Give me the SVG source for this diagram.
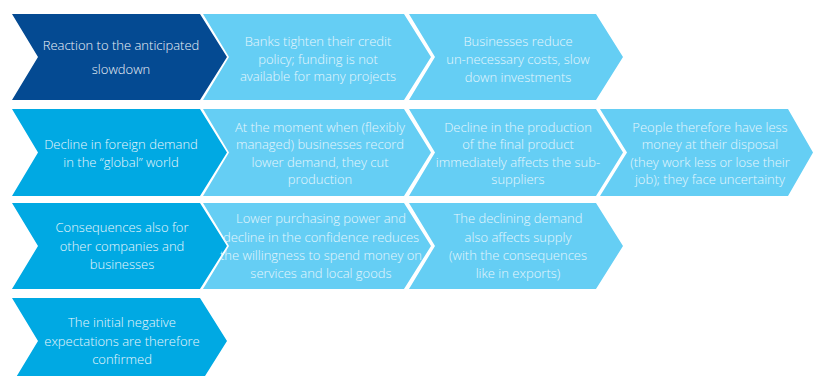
<svg xmlns="http://www.w3.org/2000/svg" width="816" height="378" viewBox="0 0 816 378">
  <style>
    .dark { fill: #044A92; }
    .mid { fill: #00A9E3; }
    .light { fill: #65CEF4; }
    text { font-family: "Open Sans", "Liberation Sans", sans-serif; font-size: 13px; font-weight: 300; text-anchor: middle; }
    .t-dark { fill: #EEF3F9; }
    .t-mid { fill: #E9F6FC; }
    .t-light { fill: #E6F6FD; }
  </style>
  <defs>
    <clipPath id="page">
      <rect x="0" y="0" width="816" height="376"/>
    </clipPath>
  </defs>
  <rect width="816" height="378" fill="#FFFFFF"/>

  <!-- Row 1 -->
  <g id="n-reaction">
    <polygon class="dark" points="12,14 200,14 227,57 200,100 12,100 38,57"/>
    <text class="t-dark" x="121" y="50">Reaction to the anticipated</text>
    <text class="t-dark" x="121" y="74">slowdown</text>
  </g>
  <g id="n-banks">
    <polygon class="light" points="203,14 404,14 431,57 404,100 203,100 229,57"/>
    <text class="t-light" x="318" y="46">Banks tighten their credit</text>
    <text class="t-light" x="318" y="63.5">policy; funding is not</text>
    <text class="t-light" x="318" y="81">available for many projects</text>
  </g>
  <g id="n-costs">
    <polygon class="light" points="409,14 596,14 623,57 596,100 409,100 435,57"/>
    <text class="t-light" x="518" y="46">Businesses reduce</text>
    <text class="t-light" x="518" y="64">un-necessary costs, slow</text>
    <text class="t-light" x="518" y="82">down investments</text>
  </g>

  <!-- Row 2 -->
  <g id="n-foreign">
    <polygon class="mid" points="12,109 200,109 227,152.5 200,196 12,196 38,152.5"/>
    <text class="t-mid" x="121" y="149">Decline in foreign demand</text>
    <text class="t-mid" x="121" y="167">in the “global” world</text>
  </g>
  <g id="n-cut">
    <polygon class="light" points="203,109 404,109 431,152.5 404,196 203,196 229,152.5"/>
    <text class="t-light" x="320" y="132">At the moment when (flexibly</text>
    <text class="t-light" x="320" y="149">managed) businesses record</text>
    <text class="t-light" x="320" y="167">lower demand, they cut</text>
    <text class="t-light" x="320" y="184">production</text>
  </g>
  <g id="n-suppliers">
    <polygon class="light" points="409,109 596,109 623,152.5 596,196 409,196 435,152.5"/>
    <text class="t-light" x="518" y="132">Decline in the production</text>
    <text class="t-light" x="518" y="149">of the final product</text>
    <text class="t-light" x="518" y="167">immediately affects the sub-</text>
    <text class="t-light" x="518" y="184">suppliers</text>
  </g>
  <g id="n-people">
    <polygon class="light" points="600,109 788,109 813,152.5 788,196 600,196 627,152.5"/>
    <text class="t-light" x="710" y="132">People therefore have less</text>
    <text class="t-light" x="710" y="149">money at their disposal</text>
    <text class="t-light" x="710" y="167">(they work less or lose their</text>
    <text class="t-light" x="710" y="184">job); they face uncertainty</text>
  </g>

  <!-- Row 3 -->
  <g id="n-consequences">
    <polygon class="mid" points="12,203 200,203 227,246 200,289 12,289 38,246"/>
    <text class="t-mid" x="122" y="232">Consequences also for</text>
    <text class="t-mid" x="122" y="251">other companies and</text>
    <text class="t-mid" x="122" y="269">businesses</text>
  </g>
  <g id="n-purchasing">
    <polygon class="light" points="203,203 404,203 431,246 404,289 203,289 229,246"/>
    <text class="t-light" x="321" y="223">Lower purchasing power and</text>
    <text class="t-light" x="321" y="242">decline in the confidence reduces</text>
    <text class="t-light" x="321" y="260">the willingness to spend money on</text>
    <text class="t-light" x="321" y="278">services and local goods</text>
  </g>
  <g id="n-supply">
    <polygon class="light" points="409,203 596,203 623,246 596,289 409,289 435,246"/>
    <text class="t-light" x="518" y="223">The declining demand</text>
    <text class="t-light" x="518" y="242">also affects supply</text>
    <text class="t-light" x="518" y="260">(with the consequences</text>
    <text class="t-light" x="518" y="278">like in exports)</text>
  </g>

  <!-- Row 4 -->
  <g id="n-confirmed">
    <polygon class="mid" clip-path="url(#page)" points="12,298 200,298 227,341 200,384 12,384 38,341"/>
    <text class="t-mid" x="122" y="327">The initial negative</text>
    <text class="t-mid" x="122" y="346">expectations are therefore</text>
    <text class="t-mid" x="122" y="364">confirmed</text>
  </g>
</svg>
